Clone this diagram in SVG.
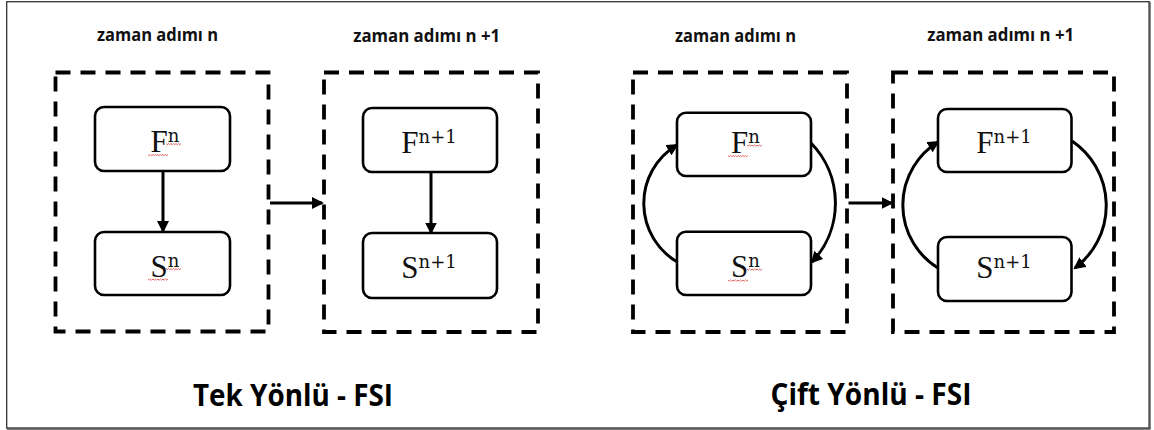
<svg xmlns="http://www.w3.org/2000/svg" width="1154" height="430" viewBox="0 0 1154 430">
<style>
.frame{fill:none;stroke:#000;stroke-width:3.8;stroke-dasharray:15 10}
.node{fill:#fff;stroke:#000;stroke-width:2.6}
.hdr{font-family:"Open Sans","Noto Sans",sans-serif;font-weight:bold;font-size:18px;fill:#111;text-anchor:middle}
.ttl{font-family:"Open Sans","Noto Sans",sans-serif;font-weight:bold;font-size:30px;fill:#000;text-anchor:middle}
.lbl{font-family:"Liberation Serif",serif;font-size:31px;fill:#111;text-anchor:middle}
.sup{font-family:"DejaVu Serif",serif;font-size:18px}
.con{fill:none;stroke:#000;stroke-width:3;marker-end:url(#ah)}
.sq{fill:none;stroke:#e05050;stroke-width:0.9}
</style>
<defs>
<marker id="ah" markerUnits="userSpaceOnUse" markerWidth="13" markerHeight="12" refX="10" refY="6" orient="auto">
<path d="M0,0 L12,6 L0,12 z" fill="#000"/>
</marker>
<path id="sqL" class="sq" d="M0,0 l1.25,1.2 l1.25,-1.2 l1.25,1.2 l1.25,-1.2 l1.25,1.2 l1.25,-1.2 l1.25,1.2 l1.25,-1.2 l1.25,1.2 l1.25,-1.2 l1.25,1.2 l1.25,-1.2 l1.25,1.2 l1.25,-1.2 l1.25,1.2 l1.25,-1.2"/>
<path id="sqS" class="sq" d="M0,0 l1.25,1.2 l1.25,-1.2 l1.25,1.2 l1.25,-1.2 l1.25,1.2 l1.25,-1.2 l1.25,1.2 l1.25,-1.2 l1.25,1.2 l1.25,-1.2 l1.25,1.2 l1.25,-1.2"/>
</defs>
<rect x="0" y="0" width="1154" height="430" fill="#fff"/>
<rect x="6.7" y="1.7" width="1142.6" height="426.5" fill="none" stroke="#333" stroke-width="1.3"/>
<line x1="1149.6" y1="2" x2="1149.6" y2="429" stroke="#555" stroke-width="2.2"/>
<line x1="7" y1="428.6" x2="1150.5" y2="428.6" stroke="#555" stroke-width="2.2"/>

<g id="frame1">
<rect class="frame" x="55.5" y="72.5" width="213" height="259"/>
<text class="hdr" x="157.5" y="40.5" textLength="121" lengthAdjust="spacingAndGlyphs">zaman adımı n</text>
</g>
<g id="frame2">
<rect class="frame" x="324" y="72.5" width="214" height="259.5"/>
<text class="hdr" x="426.7" y="41.5" textLength="147" lengthAdjust="spacingAndGlyphs">zaman adımı n +1</text>
</g>
<g id="frame3">
<rect class="frame" x="633" y="72.5" width="214" height="259.5"/>
<text class="hdr" x="735.5" y="41.5" textLength="121" lengthAdjust="spacingAndGlyphs">zaman adımı n</text>
</g>
<g id="frame4">
<rect class="frame" x="893" y="72.5" width="221" height="259.5"/>
<text class="hdr" x="1000.7" y="40.5" textLength="147" lengthAdjust="spacingAndGlyphs">zaman adımı n +1</text>
</g>

<g id="connectors">
<path class="con" d="M163,171 L163,231"/>
<path class="con" d="M431,172 L431,232.5"/>
<path class="con" d="M270,203 L322,203"/>
<path class="con" d="M848.5,203 L891.5,203"/>
<path class="con" d="M679,263 A68,68 0 0 1 677,145"/>
<path class="con" d="M811,143 A86,86 0 0 1 812,262"/>
<path class="con" d="M938,268 A74,74 0 0 1 938,142"/>
<path class="con" d="M1072,141 A78,78 0 0 1 1075,268"/>
</g>

<g id="F1">
<rect class="node" x="95" y="107" width="135" height="64" rx="9"/>
<text class="lbl" x="165" y="152">F<tspan class="sup" dy="-10">n</tspan></text>
<use href="#sqL" x="148" y="154.5"/>
<use href="#sqS" x="166" y="143.5"/>
</g>
<g id="S1">
<rect class="node" x="95" y="232" width="135" height="63" rx="9"/>
<text class="lbl" x="165" y="277">S<tspan class="sup" dy="-10">n</tspan></text>
<use href="#sqL" x="148" y="279"/>
<use href="#sqS" x="166" y="268.5"/>
</g>
<g id="F2">
<rect class="node" x="363" y="108" width="134" height="64" rx="9"/>
<text class="lbl" x="429" y="153">F<tspan class="sup" dy="-10">n+1</tspan></text>
</g>
<g id="S2">
<rect class="node" x="363" y="233" width="134" height="65" rx="9"/>
<text class="lbl" x="429" y="278">S<tspan class="sup" dy="-10">n+1</tspan></text>
</g>
<g id="F3">
<rect class="node" x="677" y="112.7" width="134" height="63.3" rx="9"/>
<text class="lbl" x="745.5" y="153">F<tspan class="sup" dy="-10">n</tspan></text>
<use href="#sqL" x="728" y="155.5"/>
<use href="#sqS" x="747" y="145"/>
</g>
<g id="S3">
<rect class="node" x="677" y="231.7" width="134" height="63.3" rx="9"/>
<text class="lbl" x="745.5" y="277">S<tspan class="sup" dy="-10">n</tspan></text>
<use href="#sqL" x="728" y="280"/>
<use href="#sqS" x="747" y="269"/>
</g>
<g id="F4">
<rect class="node" x="938" y="109" width="133.5" height="63" rx="9"/>
<text class="lbl" x="1004" y="153">F<tspan class="sup" dy="-10">n+1</tspan></text>
</g>
<g id="S4">
<rect class="node" x="938" y="237" width="133.5" height="64" rx="9"/>
<text class="lbl" x="1004" y="278">S<tspan class="sup" dy="-10">n+1</tspan></text>
</g>

<g id="titles">
<text class="ttl" x="293" y="405.5" textLength="200" lengthAdjust="spacingAndGlyphs">Tek Yönlü - FSI</text>
<text class="ttl" x="871" y="405" textLength="201" lengthAdjust="spacingAndGlyphs">Çift Yönlü - FSI</text>
</g>
</svg>
